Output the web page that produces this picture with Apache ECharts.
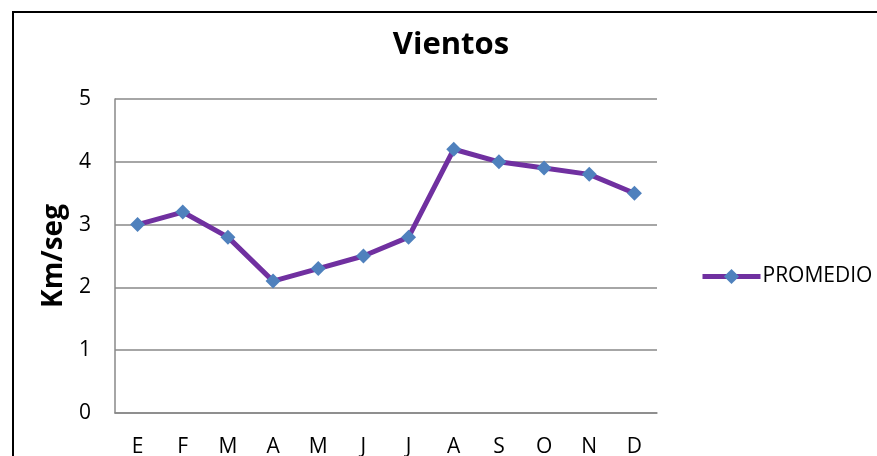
<!DOCTYPE html>
<html><head><meta charset="utf-8">
<script src="https://cdn.jsdelivr.net/npm/echarts@6/dist/echarts.min.js"></script>
<style>html,body{margin:0;padding:0;background:#fff;}#c{width:877px;height:456px;}</style>
</head><body><div id="c"></div>
<script>
var categories = ['E','F','M','A','M','J','J','A','S','O','N','D'];
var promedio = [3.0, 3.2, 2.8, 2.1, 2.3, 2.5, 2.8, 4.2, 4.0, 3.9, 3.8, 3.5];
var seriesName = 'PROMEDIO';
var chart = echarts.init(document.getElementById('c'));
var font = 'Open Sans, Noto Sans, sans-serif';
chart.setOption({
  animation: false,
  backgroundColor: '#fff',
  graphic: [{type:'rect', shape:{x:13,y:12,width:900,height:500}, style:{fill:'none', stroke:'#000', lineWidth:2}, z:-1}],
  title: {text:'Vientos', left:446, top:25, textAlign:'center', textStyle:{fontFamily:font, fontSize:31, fontWeight:'bold', color:'#000'}},
  legend: {show:true, left:695, top:261, itemWidth:58, itemHeight:19, itemGap:4, data:[seriesName],
    lineStyle:{width:5, color:'#7030A0'},
    textStyle:{fontFamily:font, fontSize:21, color:'#000', padding:[0,0,0,-3]}},
  grid: {left:115, right:220, top:99, bottom:43, outerBoundsMode:'none', containLabel:false},
  xAxis: {type:'category', data:categories, boundaryGap:true,
    axisLine:{lineStyle:{color:'#888', width:1.5}}, axisTick:{show:false},
    axisLabel:{fontFamily:font, fontSize:21, color:'#000', margin:24}},
  yAxis: {type:'value', min:0, max:5, interval:1, name:'Km/seg', nameLocation:'middle', nameGap:47,
    nameTextStyle:{fontFamily:font, fontSize:28, fontWeight:'bold', color:'#000'},
    axisLine:{show:true, lineStyle:{color:'#888', width:1.5}}, axisTick:{show:false},
    axisLabel:{fontFamily:font, fontSize:21, color:'#000', margin:24},
    splitLine:{lineStyle:{color:'#888', width:1.5}}},
  series: [{name:seriesName, type:'line', data:promedio, symbol:'diamond', symbolSize:15,
    lineStyle:{color:'#7030A0', width:5}, itemStyle:{color:'#4F81BD'}}]
});
</script></body></html>
